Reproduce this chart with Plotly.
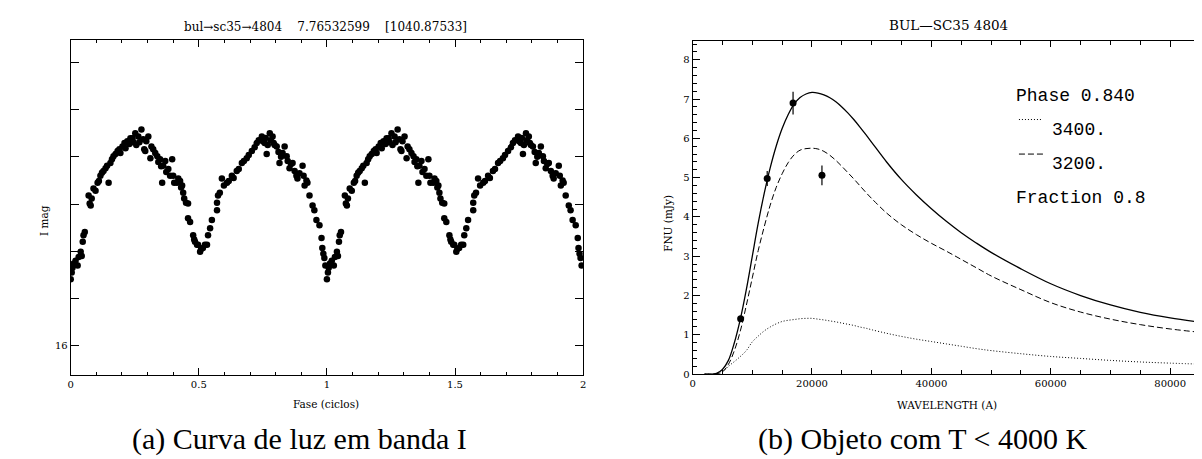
import plotly.graph_objects as go

# ---------------- Light curve (phase-folded, one cycle; plotted twice as in the original) ----------------
phase = [0.000, 0.004, 0.007, 0.012, 0.019, 0.027, 0.031, 0.039, 0.043, 0.047,
         0.050, 0.055, 0.070, 0.074, 0.078, 0.082, 0.089, 0.097, 0.105, 0.110,
         0.116, 0.122, 0.128, 0.136, 0.142, 0.148, 0.155, 0.161, 0.167, 0.175,
         0.183, 0.190, 0.194, 0.202, 0.210, 0.214, 0.221, 0.229, 0.233, 0.241,
         0.245, 0.252, 0.256, 0.264, 0.268, 0.276, 0.283, 0.287, 0.291, 0.295,
         0.303, 0.311, 0.315, 0.322, 0.330, 0.338, 0.342, 0.349, 0.353, 0.357,
         0.361, 0.369, 0.373, 0.381, 0.388, 0.396, 0.400, 0.404, 0.415, 0.420,
         0.427, 0.431, 0.435, 0.439, 0.443, 0.450, 0.458, 0.458, 0.466, 0.478,
         0.482, 0.485, 0.493, 0.497, 0.505, 0.509, 0.516, 0.524, 0.532, 0.536,
         0.544, 0.551, 0.571, 0.571, 0.575, 0.582, 0.590, 0.598, 0.610, 0.617,
         0.629, 0.636, 0.648, 0.656, 0.668, 0.676, 0.687, 0.695, 0.707, 0.718,
         0.726, 0.734, 0.746, 0.750, 0.757, 0.761, 0.765, 0.769, 0.777, 0.781,
         0.788, 0.792, 0.796, 0.804, 0.811, 0.815, 0.821, 0.827, 0.835, 0.843,
         0.847, 0.854, 0.860, 0.866, 0.874, 0.881, 0.885, 0.893, 0.905, 0.909,
         0.913, 0.920, 0.924, 0.932, 0.944, 0.951, 0.959, 0.971, 0.979, 0.982,
         0.986, 0.990, 0.994]
imag = [15.859, 15.845, 15.835, 15.826, 15.820, 15.830, 15.812, 15.801, 15.810, 15.780,
        15.766, 15.759, 15.682, 15.699, 15.703, 15.688, 15.667, 15.672, 15.655, 15.651,
        15.640, 15.634, 15.630, 15.624, 15.619, 15.655, 15.613, 15.605, 15.599, 15.594,
        15.588, 15.584, 15.592, 15.578, 15.571, 15.582, 15.567, 15.573, 15.561, 15.561,
        15.569, 15.550, 15.575, 15.557, 15.569, 15.542, 15.563, 15.584, 15.588, 15.567,
        15.557, 15.603, 15.578, 15.584, 15.592, 15.599, 15.611, 15.605, 15.620, 15.655,
        15.619, 15.609, 15.632, 15.626, 15.640, 15.605, 15.640, 15.655, 15.655, 15.646,
        15.651, 15.665, 15.661, 15.676, 15.688, 15.697, 15.699, 15.730, 15.738, 15.766,
        15.775, 15.780, 15.786, 15.786, 15.801, 15.795, 15.793, 15.786, 15.786, 15.766,
        15.751, 15.734, 15.697, 15.713, 15.682, 15.676, 15.646, 15.661, 15.655, 15.651,
        15.640, 15.645, 15.630, 15.626, 15.613, 15.609, 15.603, 15.596, 15.588, 15.580,
        15.571, 15.565, 15.557, 15.567, 15.571, 15.560, 15.594, 15.575, 15.550, 15.565,
        15.557, 15.571, 15.575, 15.578, 15.590, 15.613, 15.600, 15.592, 15.578, 15.599,
        15.609, 15.624, 15.615, 15.613, 15.630, 15.640, 15.646, 15.635, 15.619, 15.640,
        15.661, 15.650, 15.655, 15.682, 15.703, 15.713, 15.734, 15.745, 15.772, 15.793,
        15.805, 15.814, 15.830]
cycles = [0, 1]
lc_xticks = [0, 0.5, 1, 1.5, 2]
lc_xticktext = ["0", "0.5", "1", "1.5", "2"]
lc_yticks = [15.4, 15.5, 15.6, 15.7, 15.8, 15.9, 16.0]
lc_yticktext = ["", "", "", "", "", "", "16"]

# ---------------- SED (right panel) ----------------
wl = [2000, 3000, 4000, 5000, 6000, 7000, 8000, 9000, 10000, 11000, 12000, 13000,
      14000, 15000, 16000, 17000, 18000, 19000, 20000, 21000, 22000, 23000, 24000,
      25000, 26000, 27000, 28000, 29000, 30000, 32500, 35000, 37500, 40000, 42500,
      45000, 47500, 50000, 55000, 60000, 65000, 70000, 75000, 80000, 86000]
f_total = [0, 0, 0.02, 0.12, 0.35, 0.8, 1.4, 2.15, 3.0, 3.85, 4.6, 5.25,
           5.8, 6.25, 6.6, 6.87, 7.04, 7.13, 7.17, 7.155, 7.11, 7.035, 6.93,
           6.80, 6.65, 6.48, 6.295, 6.10, 5.90, 5.40, 4.95, 4.56, 4.21, 3.89,
           3.60, 3.34, 3.10, 2.68, 2.30, 2.00, 1.76, 1.57, 1.43, 1.30]
f_3400 = [0, 0, 0.01, 0.05, 0.2, 0.32, 0.45, 0.6, 0.82, 0.97, 1.1, 1.2,
          1.28, 1.34, 1.37, 1.39, 1.41, 1.42, 1.42, 1.40, 1.38, 1.355, 1.33,
          1.30, 1.27, 1.24, 1.20, 1.17, 1.13, 1.04, 0.96, 0.89, 0.83, 0.77,
          0.71, 0.65, 0.60, 0.52, 0.45, 0.40, 0.35, 0.31, 0.28, 0.25]
f_3200 = [0, 0, 0.01, 0.06, 0.25, 0.6, 1.1, 1.75, 2.45, 3.15, 3.75, 4.3,
          4.75, 5.1, 5.38, 5.58, 5.7, 5.74, 5.75, 5.73, 5.67, 5.57, 5.44,
          5.29, 5.13, 4.97, 4.80, 4.63, 4.47, 4.10, 3.80, 3.55, 3.33, 3.13,
          2.92, 2.71, 2.50, 2.15, 1.82, 1.58, 1.40, 1.26, 1.15, 1.05]
obs_wl = [8050, 12500, 16830, 21670]
obs_f = [1.41, 4.98, 6.90, 5.06]
obs_err = [0.06, 0.19, 0.29, 0.25]
sed_xticks = [0, 20000, 40000, 60000, 80000]
sed_yticks = [0, 1, 2, 3, 4, 5, 6, 7, 8]

W, H = 1202, 459
def px(x):
    return x / W
def py(y):
    return 1 - y / H

fig = go.Figure()

lc_x = []
lc_y = []
for c in cycles:
    lc_x += [p + c for p in phase]
    lc_y += imag
fig.add_trace(go.Scatter(x=lc_x, y=lc_y, mode="markers",
                         marker=dict(color="black", size=6.5, line=dict(width=0)),
                         xaxis="x", yaxis="y", showlegend=False))

fig.add_trace(go.Scatter(x=wl, y=f_3400, mode="lines", line=dict(color="black", width=1, dash="1px,2px", shape="spline"),
                         xaxis="x2", yaxis="y2", showlegend=False))
fig.add_trace(go.Scatter(x=wl, y=f_3200, mode="lines", line=dict(color="black", width=1, dash="6px,3px", shape="spline"),
                         xaxis="x2", yaxis="y2", showlegend=False))
fig.add_trace(go.Scatter(x=wl, y=f_total, mode="lines", line=dict(color="black", width=1.3, shape="spline"),
                         xaxis="x2", yaxis="y2", showlegend=False))
fig.add_trace(go.Scatter(x=obs_wl, y=obs_f, mode="markers",
                         marker=dict(color="black", size=7),
                         error_y=dict(type="data", array=obs_err, color="black", thickness=1.2, width=0),
                         xaxis="x2", yaxis="y2", showlegend=False))

tickfont = dict(family="DejaVu Serif", size=10, color="black")
axis_common = dict(showline=True, linecolor="black", linewidth=1, mirror="allticks",
                   ticks="inside", tickcolor="black", tickwidth=1, showgrid=False, zeroline=False,
                   tickfont=tickfont)

fig.update_layout(
    width=W, height=H,
    margin=dict(l=0, r=0, t=0, b=0),
    paper_bgcolor="white", plot_bgcolor="white",
    xaxis=dict(domain=[px(60), px(575)], range=[0, 2], tickmode="array",
               tickvals=lc_xticks, ticktext=lc_xticktext, ticklen=7,
               minor=dict(dtick=0.1, ticklen=3, ticks="inside", tickcolor="black"),
               anchor="y", **axis_common),
    yaxis=dict(domain=[py(372), py(32)], range=[16.062, 15.352], tickmode="array",
               tickvals=lc_yticks, ticktext=lc_yticktext, ticklen=8,
               anchor="x", **axis_common),
    xaxis2=dict(domain=[px(685), px(1200)], range=[0, 85833], tickmode="array",
                tickvals=sed_xticks, ticktext=[str(v) for v in sed_xticks], ticklen=6,
                minor=dict(dtick=5000, ticklen=4, ticks="inside", tickcolor="black"),
                anchor="y2", **axis_common),
    yaxis2=dict(domain=[py(371), py(33)], range=[0, 8.49], tickmode="array",
                tickvals=sed_yticks, ticktext=[str(v) for v in sed_yticks], ticklen=7,
                minor=dict(dtick=0.2, ticklen=4, ticks="inside", tickcolor="black"),
                anchor="x2", **axis_common),
)

nb = "\u00a0"
ann = []
def A(text, x, y, size, family="DejaVu Serif", xanchor="center", angle=0):
    ann.append(dict(text=text, x=x, y=y, xref="paper", yref="paper", showarrow=False,
                    xanchor=xanchor, yanchor="middle", textangle=angle,
                    font=dict(family=family, size=size, color="black")))

A("bul→sc35→4804" + nb * 4 + "7.76532599" + nb * 4 + "[1040.87533]", px(316), py(19), 12)
A("BUL—SC35 4804", px(942), py(17), 13.5)
A("Fase (ciclos)", px(317), py(401), 10.5)
A("WAVELENGTH (A)", px(941), py(402), 10.5)
A("I mag", px(33), py(215), 10.5, angle=-90)
A("FNU (mJy)", px(660), py(218), 10.5, angle=-90)
A("(a) Curva de luz em banda I", px(290), py(437), 30, family="Liberation Serif")
A("(b) Objeto com T < 4000 K", px(916), py(437), 30, family="Liberation Serif")
A("Phase 0.840", px(1008), py(89), 18, family="Liberation Mono", xanchor="left")
A("3400.", px(1044), py(124), 18, family="Liberation Mono", xanchor="left")
A("3200.", px(1044), py(158), 18, family="Liberation Mono", xanchor="left")
A("Fraction 0.8", px(1008), py(193), 18, family="Liberation Mono", xanchor="left")
fig.update_layout(annotations=ann)

fig.add_shape(type="line", xref="paper", yref="paper", x0=px(1013), x1=px(1037), y0=py(113), y1=py(113),
              line=dict(color="black", width=1, dash="1px,2px"))
fig.add_shape(type="line", xref="paper", yref="paper", x0=px(1013), x1=px(1038), y0=py(148), y1=py(148),
              line=dict(color="black", width=1, dash="6px,3px"))

fig.write_html("out.html")
